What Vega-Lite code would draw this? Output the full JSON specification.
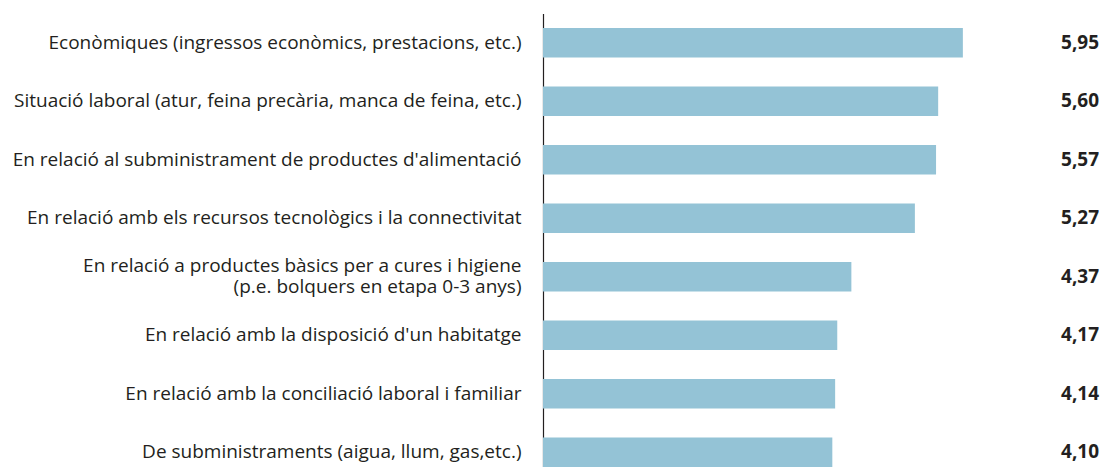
{
  "$schema": "https://vega.github.io/schema/vega-lite/v6.json",
  "autosize": "none",
  "padding": {"top": 13.5, "left": 543, "right": 0, "bottom": 0},
  "width": 561,
  "height": 468,
  "background": "white",
  "data": {"values": [
    {"cat": "Econòmiques (ingressos econòmics, prestacions, etc.)", "v": 5.95, "lab": "5,95"},
    {"cat": "Situació laboral (atur, feina precària, manca de feina, etc.)", "v": 5.60, "lab": "5,60"},
    {"cat": "En relació al subministrament de productes d'alimentació", "v": 5.57, "lab": "5,57"},
    {"cat": "En relació amb els recursos tecnològics i la connectivitat", "v": 5.27, "lab": "5,27"},
    {"cat": "En relació a productes bàsics per a cures i higiene|(p.e. bolquers en etapa 0-3 anys)", "v": 4.37, "lab": "4,37"},
    {"cat": "En relació amb la disposició d'un habitatge", "v": 4.17, "lab": "4,17"},
    {"cat": "En relació amb la conciliació laboral i familiar", "v": 4.14, "lab": "4,14"},
    {"cat": "De subministraments (aigua, llum, gas,etc.)", "v": 4.10, "lab": "4,10"}
  ]},
  "encoding": {
    "y": {"field": "cat", "type": "nominal", "sort": null,
      "scale": {"paddingInner": 0.494, "paddingOuter": 0.247},
      "axis": {"title": null, "ticks": false, "domainColor": "#231f20", "domainWidth": 1.2,
        "labelFont": "Open Sans", "labelFontSize": 19, "labelColor": "#231f20",
        "labelPadding": 22, "labelLimit": 700, "labelLineHeight": 21,
        "labelOffset": {"condition": {"test": "indexof(datum.value, '|') >= 0", "value": -11}, "value": 0},
        "labelExpr": "split(datum.label, '|')"}}
  },
  "layer": [
    {"mark": {"type": "bar", "color": "#94c3d6"},
     "encoding": {"x": {"field": "v", "type": "quantitative", "scale": {"domain": [0, 7.95], "nice": false, "zero": true}, "axis": null}}},
    {"mark": {"type": "text", "align": "right", "baseline": "middle", "font": "Open Sans", "fontSize": 19, "fontWeight": "bold", "color": "#231f20"},
     "encoding": {"x": {"datum": 7.88, "type": "quantitative"}, "text": {"field": "lab"}}}
  ],
  "config": {"view": {"stroke": null}}
}
